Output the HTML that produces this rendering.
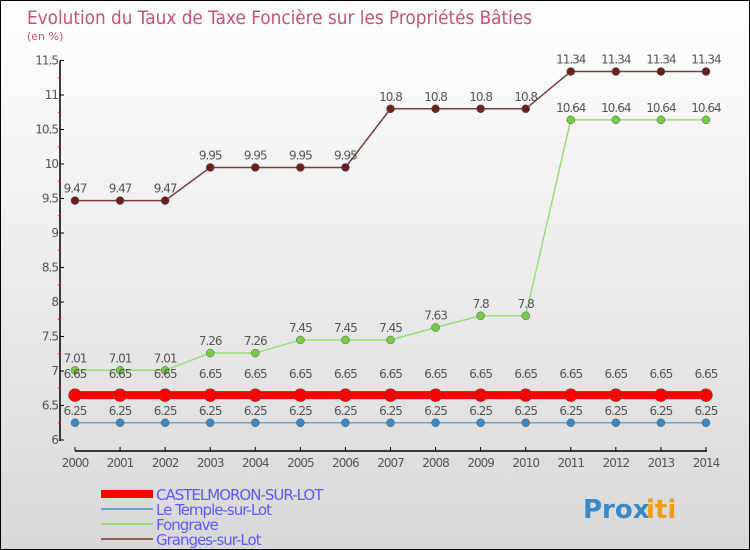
<!DOCTYPE html>
<html><head><meta charset="utf-8"><style>
body{margin:0}
#c{position:relative;width:748px;height:548px;border:1px solid #000;background:linear-gradient(#fff,#d8d8d8);font-family:"DejaVu Sans","Liberation Sans",sans-serif;overflow:hidden}
svg text{font-family:"DejaVu Sans","Liberation Sans",sans-serif}
</style></head><body>
<div id="c">
<svg id="s" width="748" height="548">
<text x="26" y="23" font-size="19" fill="#c8507a" textLength="505" lengthAdjust="spacingAndGlyphs">Evolution du Taux de Taxe Foncière sur les Propriétés Bâties</text>
<text x="26" y="39" font-size="11" fill="#c8507a">(en %)</text>
<g id="g"></g>
</svg>
</div>
<script>
const years=[2000,2001,2002,2003,2004,2005,2006,2007,2008,2009,2010,2011,2012,2013,2014];
const castel=[6.65,6.65,6.65,6.65,6.65,6.65,6.65,6.65,6.65,6.65,6.65,6.65,6.65,6.65,6.65];
const temple=[6.25,6.25,6.25,6.25,6.25,6.25,6.25,6.25,6.25,6.25,6.25,6.25,6.25,6.25,6.25];
const fongrave=[7.01,7.01,7.01,7.26,7.26,7.45,7.45,7.45,7.63,7.8,7.8,10.64,10.64,10.64,10.64];
const granges=[9.47,9.47,9.47,9.95,9.95,9.95,9.95,10.8,10.8,10.8,10.8,11.34,11.34,11.34,11.34];
const yTicks=[6,6.5,7,7.5,8,8.5,9,9.5,10,10.5,11,11.5];
const names=["CASTELMORON-SUR-LOT","Le Temple-sur-Lot","Fongrave","Granges-sur-Lot"];
const NS="http://www.w3.org/2000/svg";
const g=document.getElementById('g');
const X=i=>74+i*45.07;
const Y=v=>439-(v-6)*69;
function el(t,a,txt){const e=document.createElementNS(NS,t);for(const k in a)e.setAttribute(k,a[k]);if(txt!==undefined)e.textContent=txt;g.appendChild(e);return e;}
let e=el('line',{x1:59,y1:60,x2:59,y2:440,stroke:'#000','stroke-width':1.5});

e=el('line',{x1:74,y1:450,x2:706,y2:450,stroke:'#000','stroke-width':1.5});

yTicks.forEach(v=>{const y=Y(v);
 el('line',{x1:59,y1:y,x2:63,y2:y,stroke:'#000'});
 if(v<11.5)el('line',{x1:57,y1:Y(v+0.25),x2:60,y2:Y(v+0.25),stroke:'#f00'});
 const t=el('text',{x:57,y:y+4,'font-size':12,fill:'#555','text-anchor':'end','letter-spacing':'-1'},String(v));
 });
years.forEach((yr,i)=>{el('line',{x1:X(i),y1:446,x2:X(i),y2:450,stroke:'#000'});
 const t=el('text',{x:X(i),y:466,'font-size':12,fill:'#555','text-anchor':'middle','letter-spacing':'-1'},String(yr));
 });
function series(d,col,fill,w,r,name,labOff){
 const p=el('polyline',{points:d.map((v,i)=>X(i)+','+Y(v)).join(' '),fill:'none',stroke:col,'stroke-width':w});
 
 d.forEach((v,i)=>{const c=el('circle',{cx:X(i),cy:Y(v),r:r,fill:fill,stroke:'#555','stroke-width':0.5});
  
  const t=el('text',{x:X(i),y:Y(v)-labOff,'font-size':12,fill:'#555','text-anchor':'middle','letter-spacing':'-1'},String(v));
  });
}
series(granges,'#7a3b3b','#6b1f1f',1.5,4,'granges',8);
series(fongrave,'#99dd77','#77cc44',1.5,4,'fongrave',8);
series(temple,'#6fa5cc','#3b88c4',1.5,4,'temple',8);
series(castel,'#f00','#f00',8,6.5,'castelmoron',17);
const lc=['#f00','#6fa5cc','#99dd77','#9a5a5a'],lw=[8,2,2,2];
names.forEach((n,i)=>{const y=493+i*15;
 let l=el('line',{x1:100,y1:y,x2:152,y2:y,stroke:lc[i],'stroke-width':lw[i]});
 
 const t=el('text',{x:155,y:y+6,'font-size':15,fill:'#5a5aff','letter-spacing':'-1'},n);
 });
const lg=el('text',{x:582,y:517,'font-size':26,'font-weight':'bold',fill:'#3b88c4'},'Prox');

const lg2=el('text',{x:645,y:517,'font-size':26,'font-weight':'bold',fill:'#f39c12'},'iti');

</script>
</body></html>
